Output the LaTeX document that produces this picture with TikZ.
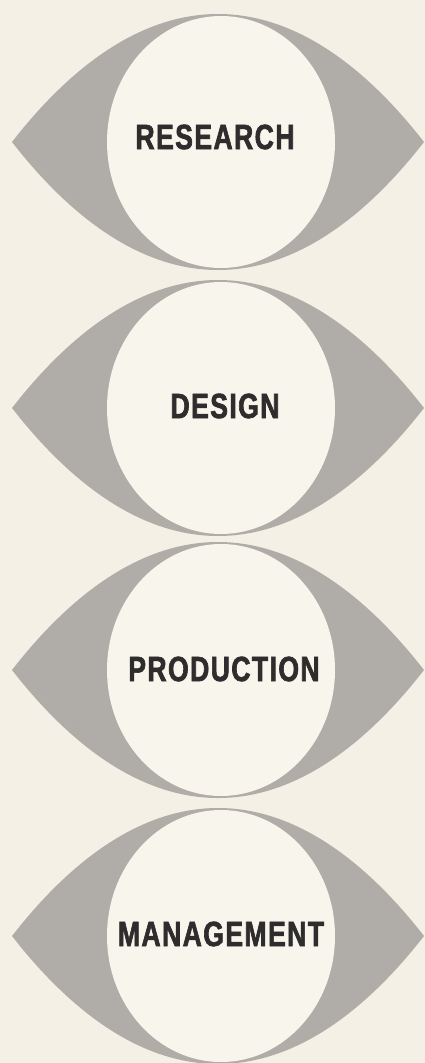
\documentclass[tikz,border=0pt]{standalone}
\usepackage{fontspec}
\newfontfamily\eyefont[FakeStretch=0.76, LetterSpace=4,
  BoldFeatures={FakeBold=1.8}]{Liberation Sans}
\usetikzlibrary{positioning}
\usepackage{xcolor}
\definecolor{papercream}{HTML}{F4F0E5}
\definecolor{lidgray}{HTML}{B0ADA8}
\definecolor{inkdark}{HTML}{2E2C2C}
\definecolor{pupilwhite}{HTML}{F8F5EC}

% outline of one eye, centred on the origin
\newcommand{\lidshape}{(-206,0) .. controls (-150,-72) and (-80,-128) .. (0,-128)
  .. controls (80,-128) and (150,-72) .. (206,0)
  .. controls (150,72) and (80,128) .. (0,128)
  .. controls (-80,128) and (-150,72) .. (-206,0) -- cycle}

\begin{document}
\begin{tikzpicture}[
    x=1pt, y=-1pt,
    lid/.style={fill=lidgray},
    pupil/.style={fill=pupilwhite},
    eyelbl/.style={font=\eyefont\fontsize{35}{35}\selectfont\bfseries,
                   text=inkdark, inner sep=0pt},
]

% ── Background ──────────────────────────────────────────────────
\fill[papercream] (0,0) rectangle (425,1063);
\useasboundingbox (0,0) rectangle (425,1063);

% ── Four eyes, top to bottom ────────────────────────────────────
\foreach \cy/\name/\lbl/\lx/\ly in {142/research/RESEARCH/215/137,
    408/design/DESIGN/225/406, 670/production/PRODUCTION/224/669,
    936/management/MANAGEMENT/221/934}{
  \begin{scope}[shift={(218,\cy)}]
    \fill[lid] \lidshape;
    \begin{scope}
      \clip \lidshape;
      \fill[pupil] (3,0) ellipse [x radius=114, y radius=126];
    \end{scope}
  \end{scope}
  \node[eyelbl] (\name) at (\lx,\ly) {\lbl};
}

\end{tikzpicture}
\end{document}
